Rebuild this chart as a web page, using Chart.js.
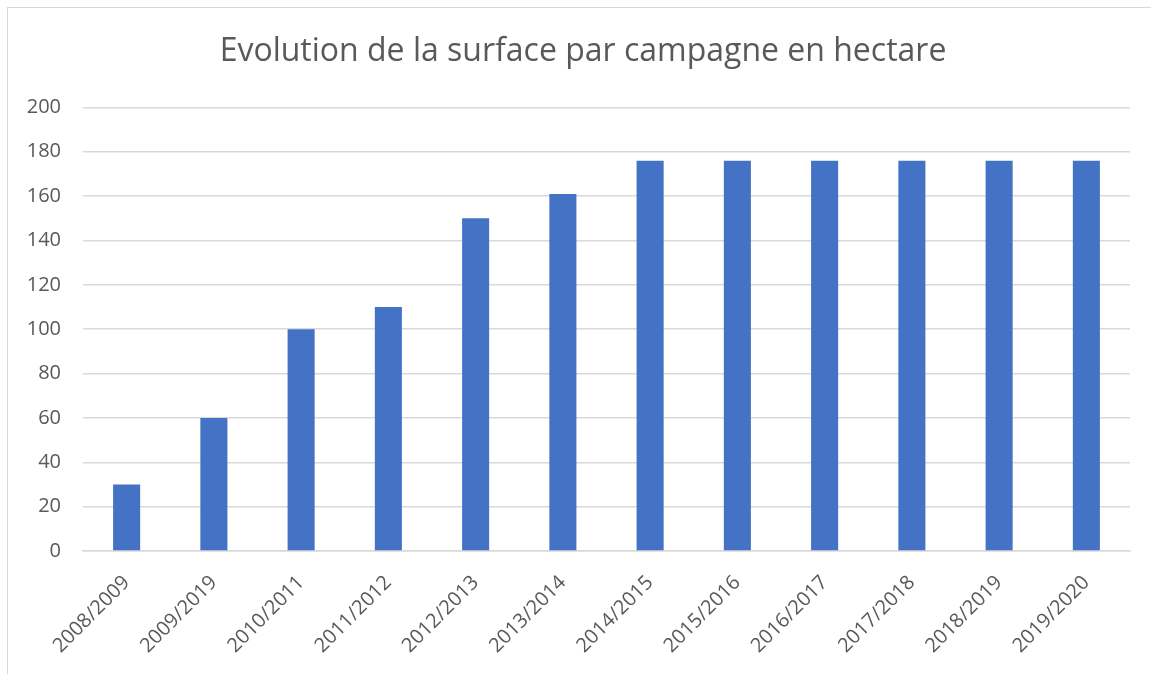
<!DOCTYPE html>
<html><head><meta charset="utf-8">
<script src="https://cdn.jsdelivr.net/npm/chart.js@4/dist/chart.umd.min.js"></script>
<style>
html,body{margin:0;padding:0;background:#fff;}
#wrap{position:absolute;left:7px;top:7px;width:1150px;height:670px;border:1.5px solid #d9d9d9;box-sizing:border-box;}
#c{position:absolute;left:0;top:0;}
</style></head>
<body>
<div id="wrap"></div>
<canvas id="c" width="1151" height="674"></canvas>
<script>
const categories = ["2008/2009","2009/2019","2010/2011","2011/2012","2012/2013","2013/2014","2014/2015","2015/2016","2016/2017","2017/2018","2018/2019","2019/2020"];
const surfaceValues = [30, 60, 100, 110, 150, 161, 176, 176, 176, 176, 176, 176];
const yTicks = [0, 20, 40, 60, 80, 100, 120, 140, 160, 180, 200];
const chartTitle = "Evolution de la surface par campagne en hectare";

const FONT = "'Open Sans', 'Liberation Sans', sans-serif";
const titleShift = {
  id: 'titleShift',
  afterLayout(chart) {
    if (chart.titleBlock) { chart.titleBlock.left = 36; }
  }
};
new Chart(document.getElementById('c'), {
  type: 'bar',
  data: {
    labels: categories,
    datasets: [{
      data: surfaceValues,
      backgroundColor: '#4472C4',
      borderWidth: 0,
      barPercentage: 0.31,
      categoryPercentage: 1.0
    }]
  },
  plugins: [titleShift],
  options: {
    responsive: false,
    animation: false,
    layout: { padding: { left: 0, right: 21, top: 0, bottom: 0 } },
    plugins: {
      legend: { display: false },
      tooltip: { enabled: false },
      title: {
        display: true,
        text: chartTitle,
        color: '#595959',
        font: { family: FONT, size: 32, weight: 'normal' },
        padding: { top: 33, bottom: 36 }
      }
    },
    scales: {
      x: {
        afterFit: (axis) => { axis.height = 123; },
        grid: { display: false, drawTicks: false },
        border: { display: true, color: '#d9d9d9', width: 1.5 },
        ticks: {
          color: '#595959',
          font: { family: FONT, size: 20 },
          minRotation: 45, maxRotation: 45,
          padding: 20
        }
      },
      y: {
        min: 0, max: 200,
        afterBuildTicks: (axis) => { axis.ticks = yTicks.map(v => ({ value: v })); },
        afterFit: (axis) => { axis.width = 83; },
        grid: { color: '#d9d9d9', lineWidth: 1.5, drawTicks: false },
        border: { display: false },
        ticks: {
          color: '#595959',
          font: { family: FONT, size: 20 },
          padding: 22
        }
      }
    }
  }
});
</script>
</body></html>
